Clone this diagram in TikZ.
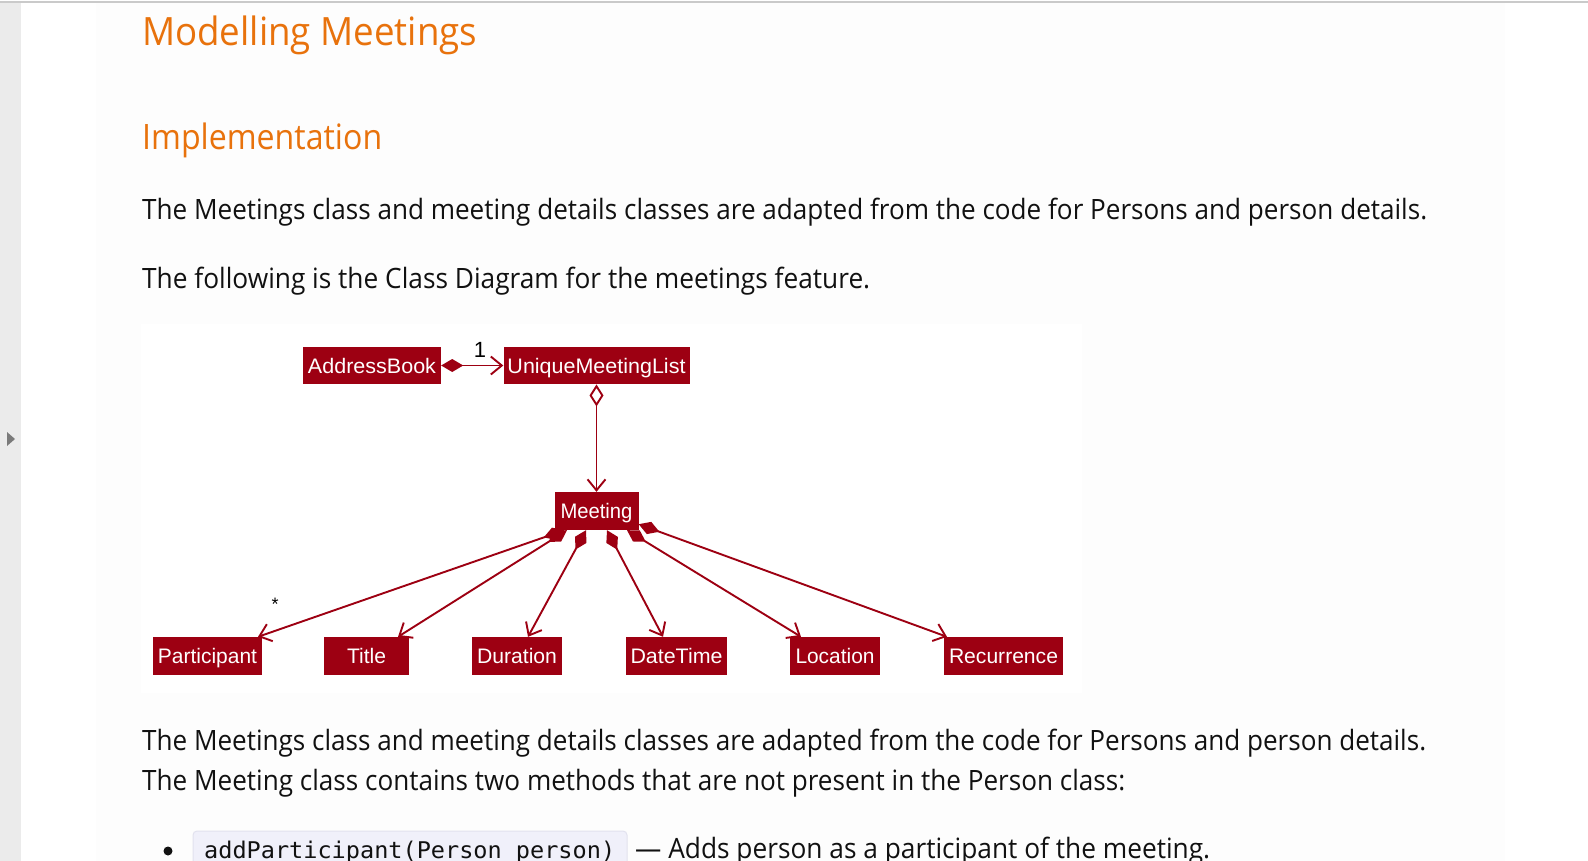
\documentclass[tikz,border=0pt]{standalone}
\usepackage{fontspec}
\usepackage{graphicx}
\setmainfont{Open Sans}
\newfontfamily\umlfont{Liberation Sans}
\newfontfamily\codefont{DejaVu Sans Mono}
\usetikzlibrary{arrows.meta,calc}
\definecolor{model}{HTML}{9D0012}
\definecolor{headc}{HTML}{E8720C}
\definecolor{panelc}{HTML}{FDFDFD}
\definecolor{sidec}{HTML}{EBEBEB}
\definecolor{topc}{HTML}{CACACA}
\definecolor{tric}{HTML}{7A7A7A}
\definecolor{codebg}{HTML}{F0F0FA}
\definecolor{codebd}{HTML}{E2E2EE}
\definecolor{bodyc}{HTML}{111111}
\newcommand\fitto[2]{\resizebox{#1pt}{\height}{#2}}
\begin{document}
\begin{tikzpicture}[x=1pt,y=-1pt,
  txt/.style={anchor=base west, inner sep=0pt, text=bodyc, font=\fontsize{28}{34}\selectfont},
  hd/.style={anchor=base west, inner sep=0pt, text=headc},
  cls/.style={rectangle, fill=model, text=white, font=\umlfont\fontsize{21}{21}\selectfont,
    inner sep=0pt, text height=15pt, text depth=0pt, minimum height=37.5pt},
  mult/.style={inner sep=0pt, text=black, font=\umlfont\fontsize{22}{22}\selectfont},
  comp/.style={draw=model, line width=1.9pt, {Diamond[length=22pt,width=13pt]}-{Straight Barb[length=11pt,width=18pt]}},
  agg/.style={draw=model, line width=1.9pt, {Diamond[length=22pt,width=14pt,fill=white]}-{Straight Barb[length=11pt,width=18pt]}}
]
\useasboundingbox (0,0) rectangle (1588,861);
% page
\fill[white] (0,0) rectangle (1588,861);
\fill[panelc] (96,3) rectangle (1505,861);
\fill[white] (141,324) rectangle (1082,693);
\fill[sidec] (0,3) rectangle (21,861);
\draw[topc, line width=1.5pt] (0,2) -- (1588,2);
\fill[tric] (7,432) -- (15,439) -- (7,446) -- cycle;

% headings and text
\node[hd, font=\fontsize{39}{44}\selectfont] (h1) at (142,46) {\fitto{335}{Modelling Meetings}};
\node[hd, font=\fontsize{35}{40}\selectfont] (h2) at (142,150) {\fitto{240}{Implementation}};
\node[txt] (p1) at (142,220) {\fitto{1285}{The Meetings class and meeting details classes are adapted from the code for Persons and person details.}};
\node[txt] (p2) at (142,288) {\fitto{728}{The following is the Class Diagram for the meetings feature.}};
\node[txt] (p3) at (142,750) {\fitto{1284}{The Meetings class and meeting details classes are adapted from the code for Persons and person details.}};
\node[txt] (p4) at (142,790) {\fitto{983}{The Meeting class contains two methods that are not present in the Person class:}};

% bullet item
\node[circle, fill=bodyc, inner sep=0pt, minimum size=9pt] (bullet) at (168,851) {};
\draw[codebd, fill=codebg, rounded corners=4pt, line width=1pt] (193,831) rectangle (627,885);
\node[anchor=base west, inner sep=0pt, text=bodyc, font=\codefont\fontsize{23}{28}\selectfont] (code) at (204,858) {\fitto{411}{addParticipant(Person person)}};
\node[txt] (p5) at (635,858) {\fitto{575}{— Adds person as a participant of the meeting.}};

% class diagram
\node[cls, minimum width=138pt] (ab) at (372,365.5) {\fitto{128}{AddressBook}};
\node[cls, minimum width=186pt] (uml) at (596.5,365.5) {\fitto{178}{UniqueMeetingList}};
\node[cls, minimum width=84pt, minimum height=38pt] (meeting) at (596.5,511) {\fitto{72}{Meeting}};
\node[cls, minimum width=109pt, minimum height=38pt] (participant) at (207.5,656) {\fitto{99}{Participant}};
\node[cls, minimum width=85pt, minimum height=38pt] (title) at (366.5,656) {\fitto{39}{Title}};
\node[cls, minimum width=90pt, minimum height=38pt] (duration) at (517,656) {\fitto{80}{Duration}};
\node[cls, minimum width=101pt, minimum height=38pt] (datetime) at (676.5,656) {\fitto{92}{DateTime}};
\node[cls, minimum width=90pt, minimum height=38pt] (location) at (835,656) {\fitto{79}{Location}};
\node[cls, minimum width=119pt, minimum height=38pt] (recurrence) at (1003.5,656) {\fitto{109}{Recurrence}};

\draw[comp] (ab.east) -- (uml.west);
\node[mult] (one) at (480,350) {1};
\draw[agg] (uml.south) -- (meeting.north);

\draw[comp] ($(meeting.south)+(-32,0)$) -- ($(participant.north)+(50.5,0)$);
\draw[comp] ($(meeting.south)+(-29.5,0)$) -- ($(title.north)+(31.5,0)$);
\draw[comp] ($(meeting.south)+(-10.5,0)$) -- ($(duration.north)+(11,0)$);
\draw[comp] ($(meeting.south)+(10.5,0)$) -- ($(datetime.north)+(-13.5,0)$);
\draw[comp] ($(meeting.south)+(30.5,0)$) -- ($(location.north)+(-34,0)$);
\draw[comp] ($(meeting.south east)+(0,-6)$) -- ($(recurrence.north)+(-56.5,0)$);
\node[mult, font=\umlfont\fontsize{18}{18}\selectfont] (star) at (275,604) {*};
\end{tikzpicture}
\end{document}
